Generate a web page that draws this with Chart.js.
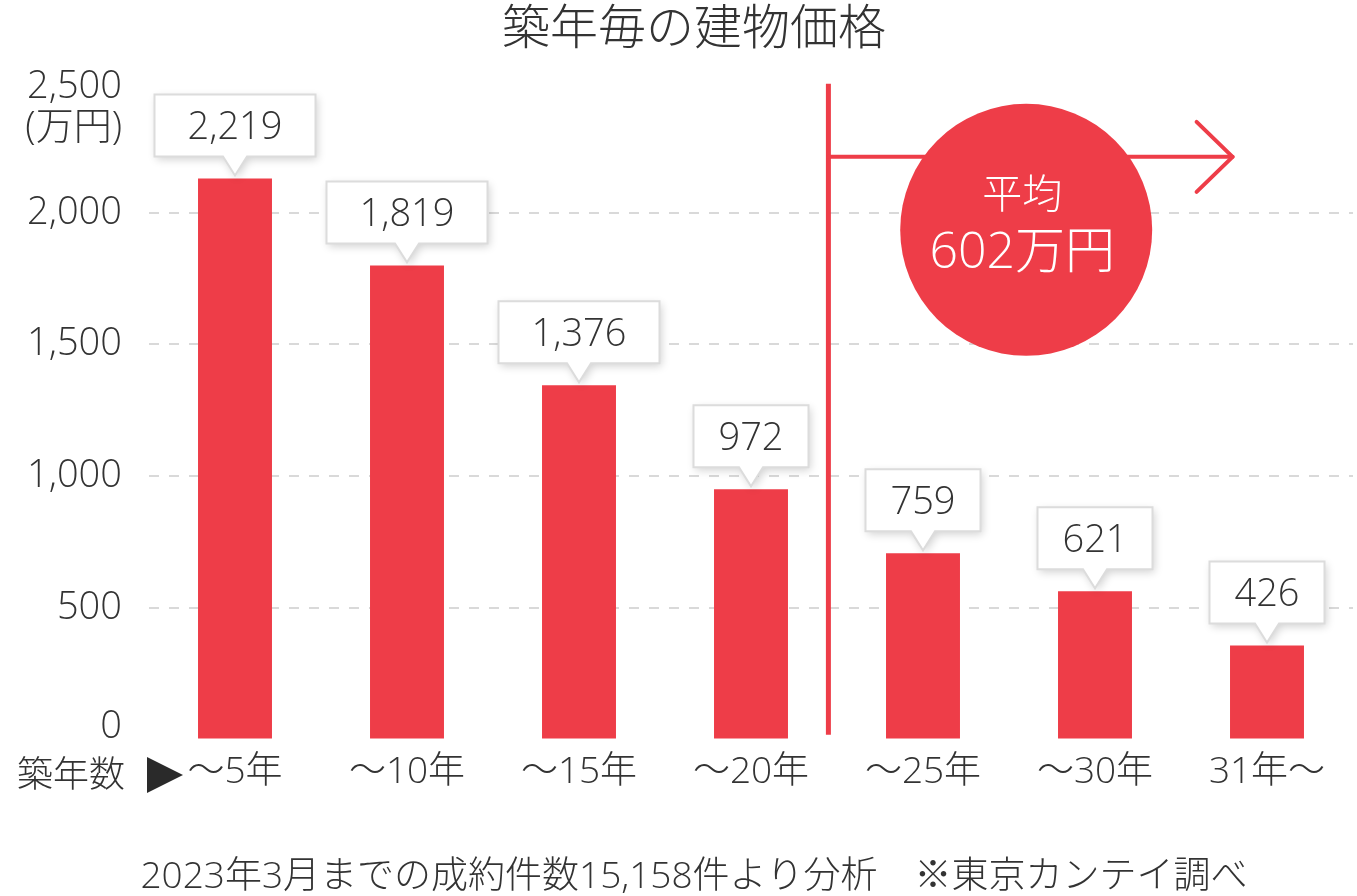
<!DOCTYPE html>
<html lang="ja">
<head>
<meta charset="utf-8">
<title>築年毎の建物価格</title>
<script src="https://cdn.jsdelivr.net/npm/chart.js@4.4.0/dist/chart.umd.min.js"></script>
<style>
  html, body { margin: 0; padding: 0; background: #fff; }
  #wrap { width: 1357px; height: 896px; position: relative; }
</style>
</head>
<body>
<div id="wrap"><canvas id="myChart"></canvas></div>
<script>
const categories = ['～5年', '～10年', '～15年', '～20年', '～25年', '～30年', '31年～'];
// bar heights as they are drawn in the picture (万円)
const barValues = [2130, 1800, 1345, 950, 707, 563, 357];
// figures printed in the callouts
const calloutLabels = ['2,219', '1,819', '1,376', '972', '759', '621', '426'];
const yTicks = [0, 500, 1000, 1500, 2000, 2500];
const yUnit = '(万円)';
const titleText = '築年毎の建物価格';
const xAxisName = '築年数';
const averageLines = ['平均', '602万円'];
const footerText = '2023年3月までの成約件数15,158件より分析　※東京カンテイ調べ';

const FONT = '"Open Sans", "Noto Sans CJK JP", "Noto Sans", sans-serif';
const CJK = '"Noto Sans CJK JP", sans-serif';
const RED = '#ee3d48';
const TEXT = '#333333';

const ctx = document.getElementById('myChart').getContext('2d');

function drawCallout(c, cx, tipY, text) {
  c.font = '300 38px ' + FONT;
  const tw = c.measureText(text).width;
  const w = Math.round(tw * 1.55 + 14), h = 62, ph = 19, pw = 24;
  const bottom = tipY - ph, top = bottom - h, left = cx - w / 2;
  c.save();
  c.beginPath();
  c.moveTo(left, top);
  c.lineTo(left + w, top);
  c.lineTo(left + w, bottom);
  c.lineTo(cx + pw / 2, bottom);
  c.lineTo(cx, tipY);
  c.lineTo(cx - pw / 2, bottom);
  c.lineTo(left, bottom);
  c.closePath();
  c.shadowColor = 'rgba(0,0,0,0.18)';
  c.shadowBlur = 8;
  c.shadowOffsetX = 2;
  c.shadowOffsetY = 3;
  c.fillStyle = '#fff';
  c.fill();
  c.shadowColor = 'transparent';
  c.lineWidth = 2;
  c.strokeStyle = '#dcdcdc';
  c.stroke();
  c.fillStyle = TEXT;
  c.textAlign = 'center';
  c.textBaseline = 'middle';
  c.fillText(text, cx, top + h / 2 + 3);
  c.restore();
}

const extras = {
  id: 'extras',
  afterDatasetsDraw(chart) {
    const c = chart.ctx;
    const area = chart.chartArea;
    const xs = chart.scales.x, ys = chart.scales.y;

    c.save();
    // title
    c.fillStyle = TEXT;
    c.textAlign = 'center';
    c.textBaseline = 'middle';
    c.font = '300 48px ' + CJK;
    c.fillText(titleText, 694, 26);

    // y tick labels
    c.font = '300 38px ' + FONT;
    c.textAlign = 'right';
    yTicks.forEach(v => {
      let py = ys.getPixelForValue(v);
      py = Math.min(Math.max(py, area.top + 6), area.bottom - 12);
      c.fillText(v.toLocaleString('en-US'), 122, py);
    });
    c.fillText(yUnit, 122, ys.getPixelForValue(2500) + 47);

    // x axis name + triangle
    c.textAlign = 'left';
    c.font = '300 36px ' + CJK;
    c.fillText(xAxisName, 17, 773);
    c.fillStyle = '#2a2a2a';
    c.beginPath();
    c.moveTo(area.left - 2, 757);
    c.lineTo(area.left - 2, 793);
    c.lineTo(area.left + 34, 775);
    c.closePath();
    c.fill();

    // footer
    c.fillStyle = TEXT;
    c.font = '300 37px ' + FONT;
    c.textAlign = 'center';
    c.fillText(footerText, 694, 877);
    c.restore();

    // average marker
    const lx = xs.getPixelForValue(3.45);
    c.save();
    c.strokeStyle = RED;
    c.lineWidth = 5;
    c.beginPath();
    c.moveTo(lx, ys.getPixelForValue(2490));
    c.lineTo(lx, ys.getPixelForValue(18));
    c.stroke();

    const ay = ys.getPixelForValue(2212);
    const ax = xs.getPixelForValue(5.8);
    c.lineWidth = 4;
    c.lineCap = 'round';
    c.lineJoin = 'round';
    c.beginPath();
    c.moveTo(lx, ay);
    c.lineTo(ax, ay);
    c.stroke();
    c.beginPath();
    c.moveTo(ax - 36, ay - 35);
    c.lineTo(ax, ay);
    c.lineTo(ax - 36, ay + 35);
    c.stroke();

    const cx = xs.getPixelForValue(4.6), cy = ys.getPixelForValue(1935);
    c.fillStyle = RED;
    c.beginPath();
    c.arc(cx, cy, 126, 0, Math.PI * 2);
    c.fill();
    c.fillStyle = '#fff';
    c.textAlign = 'center';
    c.textBaseline = 'middle';
    c.font = '300 40px ' + CJK;
    c.fillText(averageLines[0], cx - 4, cy - 37);
    c.font = '300 50px ' + FONT;
    c.fillText(averageLines[1], cx - 4, cy + 24);
    c.restore();

    // callouts
    const meta = chart.getDatasetMeta(0);
    meta.data.forEach((bar, i) => {
      drawCallout(c, bar.x, bar.y - 3, calloutLabels[i]);
    });
  }
};

new Chart(ctx, {
  type: 'bar',
  data: {
    labels: categories,
    datasets: [{
      data: barValues,
      backgroundColor: RED,
      borderWidth: 0,
      barPercentage: 0.43,
      categoryPercentage: 1
    }]
  },
  options: {
    responsive: true,
    maintainAspectRatio: false,
    animation: false,
    layout: { padding: { left: 149, right: 4, top: 81, bottom: 90 } },
    scales: {
      x: {
        grid: { display: false, drawTicks: false },
        border: { display: false },
        ticks: { color: TEXT, font: { family: FONT, size: 37, weight: '300' }, padding: 11, maxRotation: 0 }
      },
      y: {
        min: 0,
        max: 2500,
        grid: {
          drawTicks: false,
          lineWidth: 2,
          color: c => (c.tick && (c.tick.value === 0 || c.tick.value === 2500)) ? 'rgba(0,0,0,0)' : '#d9d9d9'
        },
        border: { display: false, dash: [10, 10] },
        ticks: { display: false, stepSize: 500 }
      }
    },
    plugins: {
      legend: { display: false },
      tooltip: { enabled: false },
      title: { display: false }
    }
  },
  plugins: [extras]
});
</script>
</body>
</html>
